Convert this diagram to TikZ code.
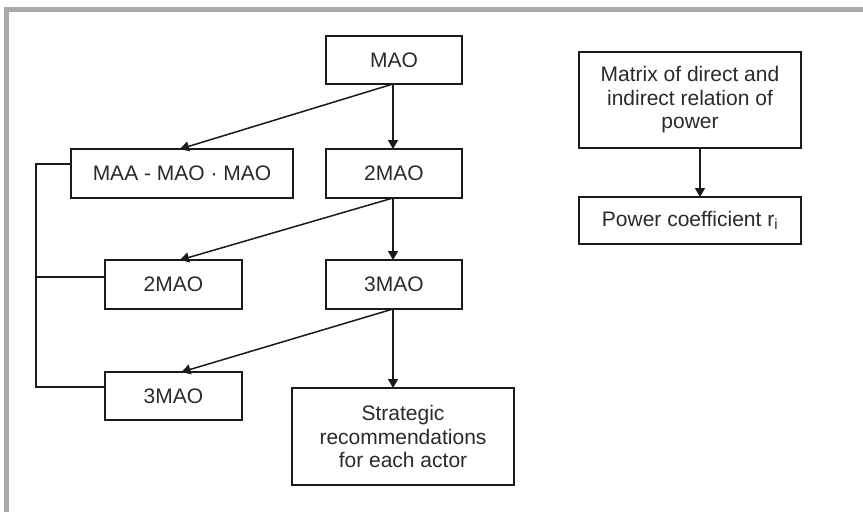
\documentclass[tikz,border=0pt]{standalone}
\usepackage{fontspec}
\setmainfont{Liberation Sans}
\usetikzlibrary{arrows.meta,calc}
\definecolor{framegray}{HTML}{A9AAAC}
\definecolor{ink}{HTML}{1A1A1A}
\definecolor{txt}{HTML}{2A2A2A}
\begin{document}
\begin{tikzpicture}[x=1pt,y=-1pt,
  box/.style={draw=ink,line width=1.5pt,inner sep=0pt,outer sep=0pt,align=center,
    text=txt,font=\fontsize{21}{23.5}\selectfont},
  arr/.style={draw=ink,line width=1.5pt,-{Triangle[length=9pt,width=10pt]}},
  link/.style={draw=ink,line width=1.5pt}]
\useasboundingbox (0,0) rectangle (863,512);
\fill[white] (0,0) rectangle (863,512);
\fill[framegray] (4,7) rectangle (863,12);
\fill[framegray] (4,7) rectangle (9,512);
% nodes
\node[box,minimum width=136pt,minimum height=48pt] (mao) at (394,60) {MAO};
\node[box,minimum width=222pt,minimum height=49pt] (maa) at (182,173.5) {MAA - MAO · MAO};
\node[box,minimum width=136pt,minimum height=49pt] (r2) at (394,173.5) {2MAO};
\node[box,minimum width=137pt,minimum height=49pt] (l2) at (173.5,284.5) {2MAO};
\node[box,minimum width=136pt,minimum height=49pt] (r3) at (394,284.5) {3MAO};
\node[box,minimum width=137pt,minimum height=48pt] (l3) at (173.5,396) {3MAO};
\node[box,minimum width=222pt,minimum height=97pt] (str) at (403,436.5) {Strategic\\recommendations\\for each actor};
\node[box,minimum width=222pt,minimum height=96pt] (mat) at (690,100) {Matrix of direct and\\indirect relation of\\power};
\node[box,minimum width=222pt,minimum height=47pt] (pow) at (690,220.5) {Power coefficient r\textsubscript{i}};
% arrows
\draw[arr] ($(mao.south)+(-1,0)$) -- ($(r2.north)+(-1,0)$);
\draw[arr] ($(mao.south)+(-1,0)$) -- ($(maa.north)+(-2,0)$);
\draw[arr] ($(r2.south)+(-1,0)$) -- ($(r3.north)+(-1,0)$);
\draw[arr] ($(r2.south)+(-1,0)$) -- ($(l2.north)+(6.5,0)$);
\draw[arr] ($(r3.south)+(-1,0)$) -- ($(str.north)+(-10,0)$);
\draw[arr] ($(r3.south)+(-1,0)$) -- ($(l3.north)+(8,0)$);
\draw[arr] ($(mat.south)+(10,0)$) -- ($(pow.north)+(10,0)$);
% bracket
\coordinate (b1) at ($(maa.west)+(0,-9.5)$);
\coordinate (b2) at ($(l2.west)+(0,-7.5)$);
\coordinate (b3) at ($(l3.west)+(0,-9)$);
\coordinate (bx) at (36,0);
\draw[link] (b1) -- (b1 -| bx) |- (b3);
\draw[link] (b2) -- (b2 -| bx);
\end{tikzpicture}
\end{document}
